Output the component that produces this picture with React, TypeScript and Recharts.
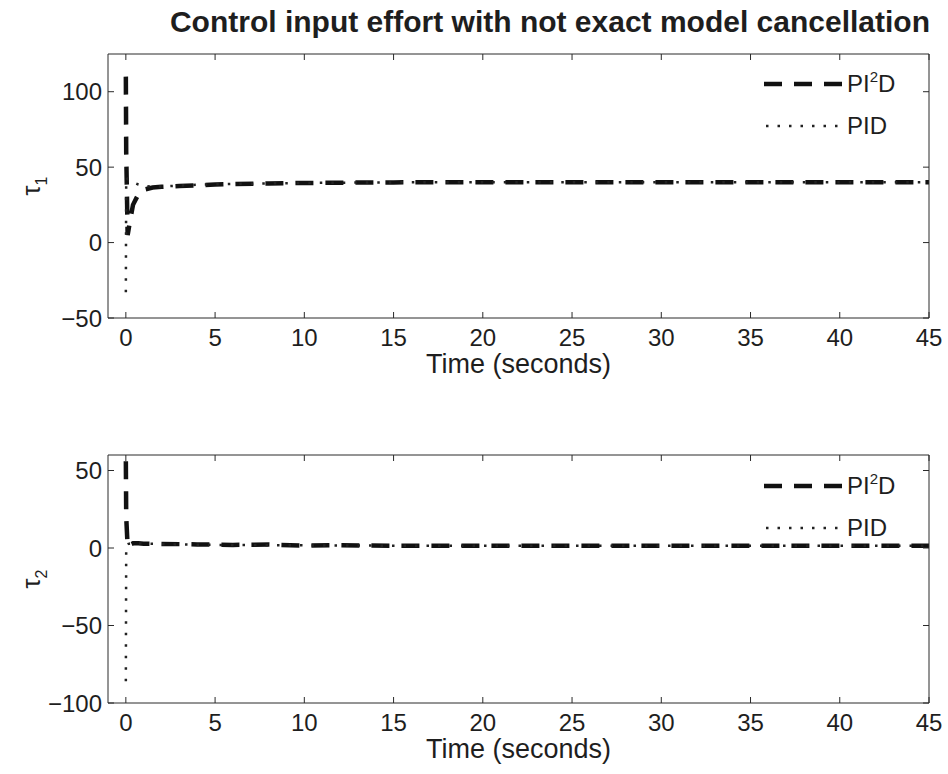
import React from "react";
import { LineChart, Line, XAxis, YAxis, Legend, Label } from "recharts";

// sample times (s) shared by all four traces
const time = [0, 0.02, 0.1, 0.2, 0.4, 0.7, 1, 1.5, 2, 3, 4, 5, 6, 8, 10, 12, 15, 20, 30, 45];

// tau_1
const tau1Pi2d = [110, 60, 5, 12, 25, 32, 35, 36.5, 37, 37.5, 38, 38.5, 38.8, 39.2, 39.5, 39.7, 39.9, 40, 40, 40];
const tau1Pid = [-33, 43, 42, 41, 40, 38.5, 37.5, 37, 37.2, 37.8, 38.3, 38.6, 38.9, 39.2, 39.5, 39.7, 39.9, 40, 40, 40];

// tau_2
const tau2Pi2d = [56, 20, 1, 2, 3, 3, 2.8, 2.7, 2.6, 2.5, 2.3, 2.2, 2, 2.2, 1.6, 1.8, 1.5, 1.5, 1.5, 1.5];
const tau2Pid = [-86, 2, 2.5, 2.8, 3, 2.9, 2.8, 2.7, 2.5, 2.3, 2.1, 2, 1.9, 1.8, 1.7, 1.6, 1.5, 1.5, 1.5, 1.5];

const xTicks = [0, 5, 10, 15, 20, 25, 30, 35, 40, 45];
const tau1Ticks = [-50, 0, 50, 100];
const tau2Ticks = [-100, -50, 0, 50];

const FONT = "'Liberation Sans', Arial, Helvetica, sans-serif";
const INK = "#1e1e1e";
const AXIS = "#2a2a2a";

const rows = (a: number[], b: number[]) =>
  time.map((t, i) => ({ t, pi2d: a[i], pid: b[i] }));

const fmt = (v: number) => (v < 0 ? `\u2212${-v}` : `${v}`);
const blank = () => "";

function LegendBox() {
  const row = { display: "flex", alignItems: "center", height: 42 };
  return (
    <div style={{ fontFamily: FONT, fontSize: 24, color: INK, lineHeight: 1 }}>
      <div style={row}>
        <svg width={80} height={10}>
          <line x1={0} y1={5} x2={78} y2={5} stroke="#111" strokeWidth={4.5} strokeDasharray="18 12" />
        </svg>
        <span style={{ marginLeft: 3 }}>
          PI<span style={{ fontSize: 15, position: "relative", top: -10 }}>2</span>D
        </span>
      </div>
      <div style={row}>
        <svg width={80} height={10}>
          <line x1={2} y1={5} x2={78} y2={5} stroke="#222" strokeWidth={2.5} strokeDasharray="2.5 9" />
        </svg>
        <span style={{ marginLeft: 3 }}>PID</span>
      </div>
    </div>
  );
}

function Panel(props: {
  data: { t: number; pi2d: number; pid: number }[];
  domain: [number, number];
  ticks: number[];
  sub: string;
  height: number;
  top: number;
  axisH: number;
  legendTop: number;
}) {
  const { data, domain, ticks, sub, height, top, axisH, legendTop } = props;
  const tickStyle = { fill: INK, fontSize: 24, fontFamily: FONT };
  return (
    <LineChart width={948} height={height} data={data} margin={{ top: top - 1, right: 18, bottom: 0, left: 0 }}>
      <XAxis
        dataKey="t"
        type="number"
        domain={[-1, 45]}
        ticks={xTicks}
        interval={0}
        allowDataOverflow
        height={axisH}
        tickSize={-6}
        tickMargin={17}
        stroke={AXIS}
        tick={tickStyle}
      >
        <Label
          content={(p: any) => (
            <text
              x={p.viewBox.x + p.viewBox.width / 2}
              y={p.viewBox.y + 55}
              textAnchor="middle"
              fontFamily={FONT}
              fontSize={27}
              fill={INK}
            >
              Time (seconds)
            </text>
          )}
        />
      </XAxis>
      <XAxis
        xAxisId="top"
        orientation="top"
        dataKey="t"
        type="number"
        domain={[-1, 45]}
        ticks={xTicks}
        interval={0}
        allowDataOverflow
        height={1}
        tickSize={-6}
        tickFormatter={blank}
        stroke={AXIS}
      />
      <YAxis
        type="number"
        domain={domain}
        ticks={ticks}
        interval={0}
        allowDataOverflow
        width={108}
        tickSize={-6}
        tickMargin={12}
        stroke={AXIS}
        tick={tickStyle}
        tickFormatter={fmt}
      >
        <Label
          content={(p: any) => {
            const x = 40;
            const y = p.viewBox.y + p.viewBox.height / 2;
            return (
              <text
                x={x}
                y={y}
                transform={`rotate(-90, ${x}, ${y})`}
                textAnchor="middle"
                fontFamily={FONT}
                fontSize={25}
                fill={INK}
              >
                τ
                <tspan dy={7} fontSize={16}>
                  {sub}
                </tspan>
              </text>
            );
          }}
        />
      </YAxis>
      <YAxis
        yAxisId="right"
        orientation="right"
        type="number"
        domain={domain}
        ticks={ticks}
        interval={0}
        allowDataOverflow
        width={1}
        tickSize={-6}
        tickFormatter={blank}
        stroke={AXIS}
      />
      <Legend
        layout="vertical"
        align="center"
        verticalAlign="middle"
        content={() => <LegendBox />}
        wrapperStyle={{ left: 764, top: legendTop, width: 180 }}
      />
      <Line
        dataKey="pi2d"
        type="linear"
        stroke="#111"
        strokeWidth={4.5}
        strokeDasharray="18 12"
        dot={false}
        isAnimationActive={false}
      />
      <Line
        dataKey="pid"
        type="linear"
        stroke="#222"
        strokeWidth={2.5}
        strokeDasharray="2.5 9"
        dot={false}
        isAnimationActive={false}
      />
    </LineChart>
  );
}

export default function App() {
  return (
    <div style={{ position: "relative", width: 948, height: 774, background: "#fff" }}>
      <style>{"body{margin:0;background:#fff}"}</style>
      <div
        style={{
          position: "absolute",
          top: 5,
          right: 18,
          fontFamily: FONT,
          fontWeight: "bold",
          fontSize: 30,
          color: INK,
          whiteSpace: "nowrap",
        }}
      >
        Control input effort with not exact model cancellation
      </div>
      <div style={{ position: "absolute", top: 0, left: 0 }}>
        <Panel
          data={rows(tau1Pi2d, tau1Pid)}
          domain={[-50, 125]}
          ticks={tau1Ticks}
          sub="1"
          height={390}
          top={54}
          axisH={72}
          legendTop={63}
        />
      </div>
      <div style={{ position: "absolute", top: 390, left: 0 }}>
        <Panel
          data={rows(tau2Pi2d, tau2Pid)}
          domain={[-100, 60]}
          ticks={tau2Ticks}
          sub="2"
          height={384}
          top={65}
          axisH={71}
          legendTop={75}
        />
      </div>
    </div>
  );
}
